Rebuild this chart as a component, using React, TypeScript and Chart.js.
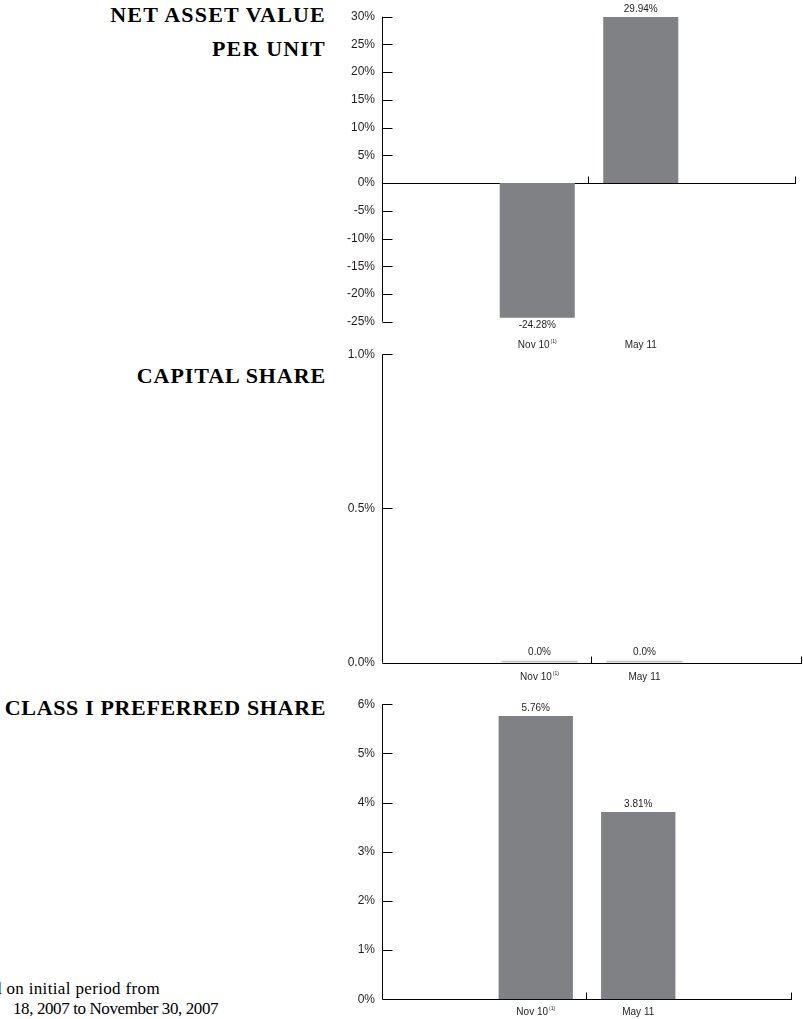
import React, { useEffect, useRef } from "react";
import { Chart, registerables } from "chart.js";

Chart.register(...registerables);

// Reporting periods and their footnote markers
const periods = ["Nov 10", "May 11"];
const periodNotes = ["(1)", ""];

// Annual returns (%) per period
const navReturns = [-24.28, 29.94];
const capitalReturns = [0.0, 0.0];
const preferredReturns = [5.76, 3.81];

// Y axis ranges: [min, max, step]
const navRange = [-25, 30, 5];
const capitalRange = [0, 1, 0.5];
const preferredRange = [0, 6, 1];

const BAR = "#808184";
const BAR_FLAT = "#c4c4c6";
const INK = "#231f20";
const SANS = "'Liberation Sans', Arial, Helvetica, sans-serif";
const SERIF = "'Liberation Serif', 'DejaVu Serif', serif";

// Empty slots either side keep the two bars near the middle of the axis
const slotLabels = ["", ...periods, ""];
const slotNotes = ["", ...periodNotes, ""];

const fundAxes = {
  id: "fundAxes",
  beforeDatasetsDraw(chart: any) {
    const { ctx, chartArea: a, scales } = chart;
    const x = scales.x;
    const y = scales.y;
    ctx.save();
    ctx.strokeStyle = "#000";
    ctx.lineWidth = 1;
    const L = Math.round(a.left) + 0.5;
    ctx.beginPath();
    ctx.moveTo(L, a.top);
    ctx.lineTo(L, a.bottom);
    y.ticks.forEach((t: any) => {
      const py = Math.round(y.getPixelForValue(t.value)) + 0.5;
      ctx.moveTo(L, py);
      ctx.lineTo(L + 10, py);
    });
    const zy = Math.round(y.getPixelForValue(0)) + 0.5;
    ctx.moveTo(L, zy);
    ctx.lineTo(a.right, zy);
    const mid = (x.getPixelForValue(1) + x.getPixelForValue(2)) / 2;
    [mid, a.right].forEach((px) => {
      const X = Math.round(px) - 0.5;
      ctx.moveTo(X, zy);
      ctx.lineTo(X, zy - 7);
    });
    ctx.stroke();
    ctx.restore();
  },
  afterDatasetsDraw(chart: any, _args: any, opts: any) {
    const { ctx, chartArea: a } = chart;
    const meta = chart.getDatasetMeta(0);
    const values = chart.data.datasets[0].data;
    ctx.save();
    ctx.fillStyle = INK;
    ctx.textBaseline = "middle";
    meta.data.forEach((bar: any, i: number) => {
      const v = values[i];
      if (v == null) return;
      const p = bar.getProps(["x", "y", "base"], true);
      const txt = v.toFixed(opts.decimals) + "%";
      ctx.font = `10px ${SANS}`;
      ctx.textAlign = "center";
      if (v < 0) ctx.fillText(txt, p.x, Math.max(p.y, p.base) + 8);
      else ctx.fillText(txt, p.x, Math.min(p.y, p.base) - 8);

      // period label with optional superscript note
      const label = chart.data.labels[i];
      const note = slotNotes[i];
      const ly = a.bottom + opts.labelGap;
      ctx.font = `10px ${SANS}`;
      const w = ctx.measureText(label).width;
      ctx.font = `5px ${SANS}`;
      const nw = note ? ctx.measureText(note).width + 1 : 0;
      const start = p.x - (w + nw) / 2;
      ctx.textAlign = "left";
      ctx.font = `10px ${SANS}`;
      ctx.fillText(label, start, ly);
      if (note) {
        ctx.font = `5px ${SANS}`;
        ctx.fillText(note, start + w + 1, ly - 4);
      }
    });
    ctx.restore();
  },
};

type PanelProps = {
  values: number[];
  range: number[];
  tickDecimals: number;
  valueDecimals: number;
  top: number;
  height: number;
  padTop: number;
  padBottom: number;
  padRight: number;
  labelGap: number;
  flatBars?: boolean;
};

function ReturnPanel(props: PanelProps) {
  const ref = useRef<HTMLCanvasElement>(null);
  useEffect(() => {
    if (!ref.current) return;
    const data = [null, ...props.values, null];
    const chart = new Chart(ref.current, {
      type: "bar",
      data: {
        labels: slotLabels,
        datasets: [
          {
            data: data as any,
            backgroundColor: props.flatBars ? BAR_FLAT : BAR,
            borderWidth: 0,
            barPercentage: 0.725,
            categoryPercentage: 1,
            minBarLength: props.flatBars ? 2 : 0,
          },
        ],
      },
      options: {
        responsive: false,
        maintainAspectRatio: false,
        animation: false,
        events: [],
        layout: {
          padding: { top: props.padTop, bottom: props.padBottom, right: props.padRight, left: 0 },
        },
        plugins: {
          legend: { display: false },
          tooltip: { enabled: false },
          fundAxes: { decimals: props.valueDecimals, labelGap: props.labelGap },
        } as any,
        scales: {
          x: { display: false, offset: true },
          y: {
            min: props.range[0],
            max: props.range[1],
            border: { display: false },
            grid: { display: false, drawTicks: false },
            ticks: {
              stepSize: props.range[2],
              padding: 7,
              color: INK,
              font: { family: SANS, size: 12 },
              callback: (v: any) => Number(v).toFixed(props.tickDecimals) + "%",
            },
            afterFit: (s: any) => {
              s.width = 52;
            },
          },
        },
      },
      plugins: [fundAxes],
    });
    return () => chart.destroy();
  }, []);
  return (
    <canvas
      ref={ref}
      width={473}
      height={props.height}
      style={{ position: "absolute", left: 330, top: props.top, display: "block" }}
    />
  );
}

const titleStyle: React.CSSProperties = {
  position: "absolute",
  right: 803 - 326,
  fontFamily: SERIF,
  fontWeight: "bold",
  fontSize: 22,
  lineHeight: "24px",
  letterSpacing: "0.9px",
  whiteSpace: "nowrap",
  color: "#000",
};

const noteStyle: React.CSSProperties = {
  position: "absolute",
  fontFamily: SERIF,
  fontSize: 17,
  lineHeight: "20px",
  whiteSpace: "nowrap",
  color: "#000",
};

export default function App() {
  return (
    <div
      style={{
        position: "absolute",
        left: 0,
        top: 0,
        width: 803,
        height: 1019,
        overflow: "hidden",
        background: "#fff",
      }}
    >
      <div style={{ ...titleStyle, top: 3, letterSpacing: "1.2px" }}>NET ASSET VALUE</div>
      <div style={{ ...titleStyle, top: 37, letterSpacing: "1.2px" }}>PER UNIT</div>
      <div style={{ ...titleStyle, top: 364 }}>CAPITAL SHARE</div>
      <div style={{ ...titleStyle, top: 696, letterSpacing: "0.65px" }}>CLASS I PREFERRED SHARE</div>

      <ReturnPanel
        values={navReturns}
        range={navRange}
        tickDecimals={0}
        valueDecimals={2}
        top={0}
        height={355}
        padTop={16.7}
        padBottom={33.3}
        padRight={7}
        labelGap={24}
      />
      <ReturnPanel
        values={capitalReturns}
        range={capitalRange}
        tickDecimals={1}
        valueDecimals={1}
        top={340}
        height={350}
        padTop={13.3}
        padBottom={27.3}
        padRight={1}
        labelGap={14.6}
        flatBars
      />
      <ReturnPanel
        values={preferredReturns}
        range={preferredRange}
        tickDecimals={0}
        valueDecimals={2}
        top={690}
        height={329}
        padTop={10}
        padBottom={19.7}
        padRight={11}
        labelGap={13.4}
      />

      <div style={{ ...noteStyle, right: 803 - 160, top: 979, letterSpacing: "0.35px" }}>
        (1) Based on initial period from
      </div>
      <div style={{ ...noteStyle, left: 13, top: 999, letterSpacing: "-0.4px" }}>
        18, 2007 to November 30, 2007
      </div>
    </div>
  );
}
